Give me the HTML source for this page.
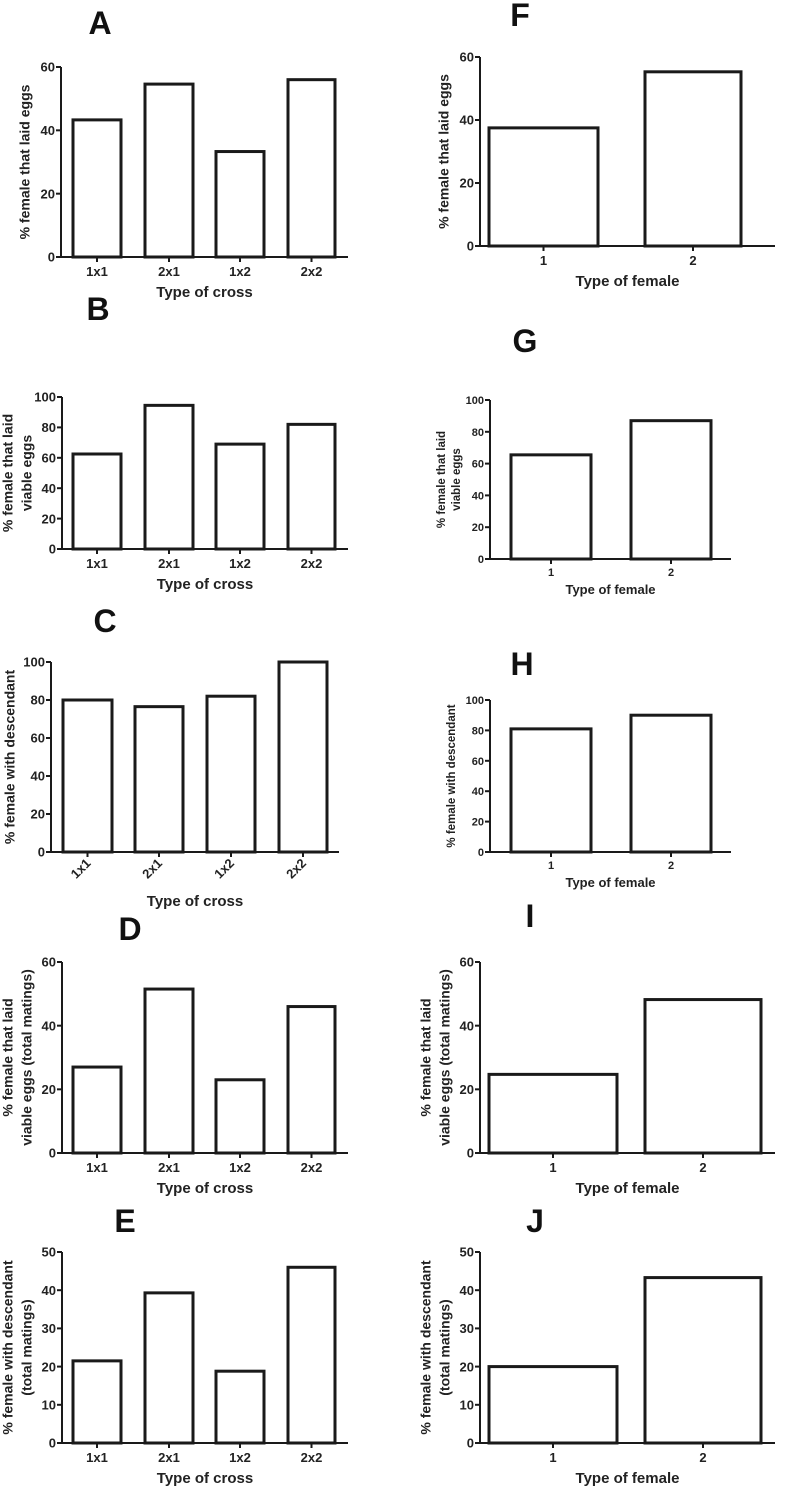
<!DOCTYPE html>
<html><head><meta charset="utf-8">
<style>
html,body{margin:0;padding:0;background:#fff;}
svg{display:block;font-family:"Liberation Sans",Arial,sans-serif;}
</style></head>
<body>
<svg id="fig" width="787" height="1503" viewBox="0 0 787 1503" xmlns="http://www.w3.org/2000/svg"></svg>
<script>
// ---- data ----
const crossCategories = ["1x1","2x1","1x2","2x2"];
const femaleCategories = ["1","2"];
const valuesA = [43.3, 54.6, 33.3, 56];
const valuesB = [62.5, 94.5, 69, 82];
const valuesC = [80, 76.5, 82, 100];
const valuesD = [27, 51.5, 23, 46];
const valuesE = [21.5, 39.3, 18.8, 46];
const valuesF = [37.5, 55.3];
const valuesG = [65.5, 87];
const valuesH = [81, 90];
const valuesI = [24.7, 48.2];
const valuesJ = [20, 43.3];
const ticks60 = [0,20,40,60];
const ticks100 = [0,20,40,60,80,100];
const ticks50 = [0,10,20,30,40,50];

const NS="http://www.w3.org/2000/svg";
const svg=document.getElementById('fig');
function mk(tag,attrs,parent){const e=document.createElementNS(NS,tag);for(const k in attrs)e.setAttribute(k,attrs[k]);(parent||svg).appendChild(e);return e;}

const panels=[
 {id:'a',letter:'A',lx:100,ly:34,ax:61,x1:348,y0:257,yTop:67,max:60,ticks:ticks60,cats:crossCategories,vals:valuesA,bars:[[73,121],[145,193],[216,264],[288,335]],ytitle:['% female that laid eggs'],xtitle:'Type of cross',big:true,rot:false},
 {id:'b',letter:'B',lx:98,ly:320,ax:62,x1:348,y0:549,yTop:397,max:100,ticks:ticks100,cats:crossCategories,vals:valuesB,bars:[[73,121],[145,193],[216,264],[288,335]],ytitle:['% female that laid','viable eggs'],xtitle:'Type of cross',big:true,rot:false},
 {id:'c',letter:'C',lx:105,ly:632,ax:51,x1:339,y0:852,yTop:662,max:100,ticks:ticks100,cats:crossCategories,vals:valuesC,bars:[[63,112],[135,183],[207,255],[279,327]],ytitle:['% female with descendant'],xtitle:'Type of cross',big:true,rot:true},
 {id:'d',letter:'D',lx:130,ly:940,ax:62,x1:348,y0:1153,yTop:962,max:60,ticks:ticks60,cats:crossCategories,vals:valuesD,bars:[[73,121],[145,193],[216,264],[288,335]],ytitle:['% female that laid','viable eggs (total matings)'],xtitle:'Type of cross',big:true,rot:false},
 {id:'e',letter:'E',lx:125,ly:1232,ax:62,x1:348,y0:1443,yTop:1252,max:50,ticks:ticks50,cats:crossCategories,vals:valuesE,bars:[[73,121],[145,193],[216,264],[288,335]],ytitle:['% female with descendant','(total matings)'],xtitle:'Type of cross',big:true,rot:false},
 {id:'f',letter:'F',lx:520,ly:26,ax:480,x1:775,y0:246,yTop:57,max:60,ticks:ticks60,cats:femaleCategories,vals:valuesF,bars:[[489,598],[645,741]],ytitle:['% female that laid eggs'],xtitle:'Type of female',big:true,rot:false},
 {id:'g',letter:'G',lx:525,ly:352,ax:490,x1:731,y0:559,yTop:400,max:100,ticks:ticks100,cats:femaleCategories,vals:valuesG,bars:[[511,591],[631,711]],ytitle:['% female that laid','viable eggs'],xtitle:'Type of female',big:false,rot:false},
 {id:'h',letter:'H',lx:522,ly:675,ax:490,x1:731,y0:852,yTop:700,max:100,ticks:ticks100,cats:femaleCategories,vals:valuesH,bars:[[511,591],[631,711]],ytitle:['% female with descendant'],xtitle:'Type of female',big:false,rot:false},
 {id:'i',letter:'I',lx:530,ly:927,ax:480,x1:775,y0:1153,yTop:962,max:60,ticks:ticks60,cats:femaleCategories,vals:valuesI,bars:[[489,617],[645,761]],ytitle:['% female that laid','viable eggs (total matings)'],xtitle:'Type of female',big:true,rot:false},
 {id:'j',letter:'J',lx:535,ly:1232,ax:480,x1:775,y0:1443,yTop:1252,max:50,ticks:ticks50,cats:femaleCategories,vals:valuesJ,bars:[[489,617],[645,761]],ytitle:['% female with descendant','(total matings)'],xtitle:'Type of female',big:true,rot:false}
];

panels.forEach(p=>{
  const g=mk('g',{});
  
  
  const tf=p.big?13:11, xf=p.big?15:13, yf=p.big?14:11.5;
  const y=v=>p.y0-(v/p.max)*(p.y0-p.yTop);
  const L=mk('text',{x:p.lx,y:p.ly,'font-size':32,'font-weight':'bold','text-anchor':'middle',fill:'#111'},g);
  L.textContent=p.letter;
  
  
  p.vals.forEach((v,i)=>{
    const [bx0,bx1]=p.bars[i];
    const r=mk('rect',{x:bx0,y:y(v),width:bx1-bx0,height:p.y0-y(v),fill:'#fff',stroke:'#1a1a1a','stroke-width':3},g);
    
    
  });
  const ya=mk('line',{x1:p.ax,y1:p.yTop,x2:p.ax,y2:p.y0,stroke:'#1a1a1a','stroke-width':2},g);
  
  
  const xa=mk('line',{x1:p.ax-5,y1:p.y0,x2:p.x1,y2:p.y0,stroke:'#1a1a1a','stroke-width':2},g);
  
  
  p.ticks.forEach(t=>{
    mk('line',{x1:p.ax-5,y1:y(t),x2:p.ax,y2:y(t),stroke:'#1a1a1a','stroke-width':2},g);
    const tl=mk('text',{x:p.ax-6,y:y(t)+tf*0.36,'font-size':tf,'font-weight':'bold','text-anchor':'end',fill:'#222'},g);
    tl.textContent=t;
    
    
  });
  p.cats.forEach((c,i)=>{
    const cx=(p.bars[i][0]+p.bars[i][1])/2;
    mk('line',{x1:cx,y1:p.y0,x2:cx,y2:p.y0+5,stroke:'#1a1a1a','stroke-width':2},g);
    let tl;
    if(p.rot){
      tl=mk('text',{x:cx+4,y:p.y0+12,'font-size':tf,'font-weight':'bold','text-anchor':'end',fill:'#222',transform:`rotate(-45 ${cx+4} ${p.y0+12})`},g);
    } else {
      tl=mk('text',{x:cx,y:p.y0+tf+6,'font-size':tf,'font-weight':'bold','text-anchor':'middle',fill:'#222'},g);
    }
    tl.textContent=c;
    
    
  });
  const xt=mk('text',{x:(p.ax+p.x1)/2,y:p.y0+(p.rot?54:(p.big?40:35)),'font-size':xf,'font-weight':'bold','text-anchor':'middle',fill:'#222'},g);
  xt.textContent=p.xtitle;
  
  
  const ymid=(p.y0+p.yTop)/2;
  const lines=p.ytitle.length;
  p.ytitle.forEach((s,k)=>{
    let xx;
    if(lines===1) xx=p.ax-(p.big?(p.ticks[p.ticks.length-1]>=100?40:35):38);
    else xx=p.ax-(p.big?(k===0?53:34):(k===0?48:33));
    const tt=mk('text',{x:xx,y:ymid,'font-size':yf,'font-weight':'bold','text-anchor':'middle','dominant-baseline':'middle',fill:'#222',transform:`rotate(-90 ${xx} ${ymid})`},g);
    tt.textContent=s;
    
    
  });
});
</script>
</body></html>
